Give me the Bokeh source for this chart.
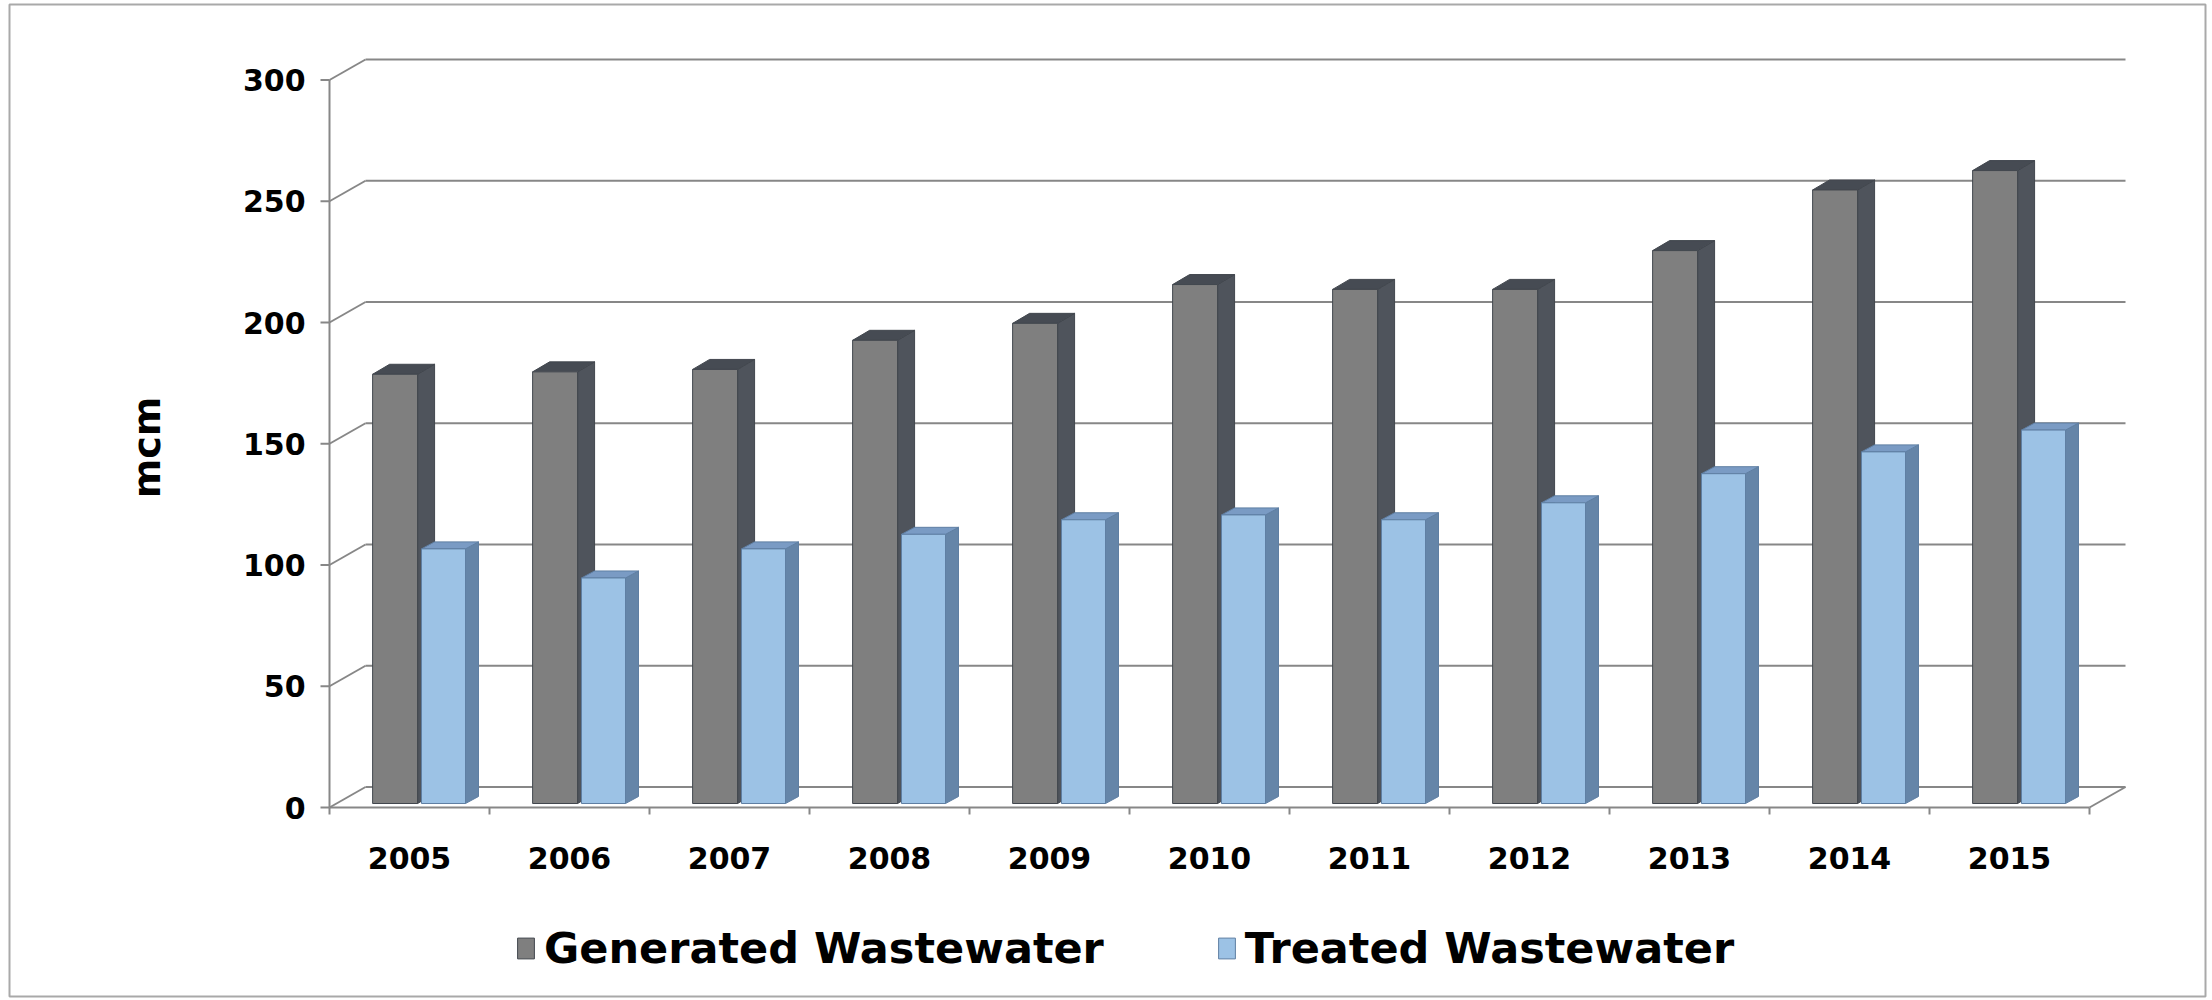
import numpy as np
from bokeh.plotting import figure
from bokeh.models import Range1d, Legend, LegendItem
from bokeh.core.properties import value
from bokeh.embed import file_html
from bokeh.resources import INLINE

# ---------------- data ----------------
years = ["2005", "2006", "2007", "2008", "2009", "2010",
         "2011", "2012", "2013", "2014", "2015"]
generated = [177, 178, 179, 191, 198, 214, 212, 212, 228, 253, 261]
treated = [105, 93, 105, 111, 117, 119, 117, 124, 136, 145, 154]
y_ticks = [0, 50, 100, 150, 200, 250, 300]
series_names = ["Generated Wastewater", "Treated Wastewater"]
y_title = "mcm"

# ---------------- geometry (screen pixels -> data units) ----------------
W, H = 2212, 1000
X0, Y0 = 329, 807          # front origin of the 3-D box on screen
SX = 160.0                 # pixels per category slot
SY = 2.425                 # pixels per mcm


def ux(px):
    return px / SX


def uy(px):
    return px / SY


n = len(years)
GRID = "#878787"
FONT = value("DejaVu Sans")

p = figure(width=W, height=H, output_backend="svg", toolbar_location=None, tools="",
           x_range=Range1d(-X0 / SX, (W - X0) / SX),
           y_range=Range1d(-(H - Y0) / SY, Y0 / SY),
           x_axis_location=None, y_axis_location=None,
           min_border=0, outline_line_color=None,
           background_fill_color="white", border_fill_color="white")
p.xgrid.visible = False
p.ygrid.visible = False

# outer frame of the picture
p.quad(left=[ux(9 - X0)], right=[ux(2205 - X0)], top=[uy(Y0 - 4)], bottom=[uy(Y0 - 996)],
       fill_color=None, line_color="#a9a9a9", line_width=2)

# back wall gridlines and left-wall diagonals
wall_dx, wall_dy = ux(36), uy(20.5)
ticks = np.array(y_ticks, dtype=float)
p.segment(x0=np.full(len(ticks), wall_dx), y0=ticks + wall_dy,
          x1=np.full(len(ticks), n + wall_dx), y1=ticks + wall_dy,
          line_color=GRID, line_width=2)
p.segment(x0=np.zeros(len(ticks)), y0=ticks, x1=np.full(len(ticks), wall_dx), y1=ticks + wall_dy,
          line_color=GRID, line_width=2)

# front value axis with ticks
p.line(x=[0, 0], y=[0, max(y_ticks)], line_color=GRID, line_width=2)
p.segment(x0=np.full(len(ticks), ux(-9)), y0=ticks, x1=np.zeros(len(ticks)), y1=ticks,
          line_color=GRID, line_width=2)

# floor front edge, right diagonal, category ticks
p.line(x=[0, n], y=[0, 0], line_color=GRID, line_width=2)
p.line(x=[n, n + wall_dx], y=[0, wall_dy], line_color=GRID, line_width=2)
bounds = np.arange(n + 1, dtype=float)
p.segment(x0=bounds, y0=np.zeros(n + 1), x1=bounds, y1=np.full(n + 1, uy(-7)),
          line_color=GRID, line_width=2)

# ---------------- 3-D columns ----------------
base = uy(4)
idx = np.arange(n, dtype=float)


def column(vals, off, width, sdx_px, sdy_px, front, side, top_c, edge):
    vals = np.array(vals, dtype=float)
    xc = idx + off
    xl, xr = xc - width / 2, xc + width / 2
    tops = base + vals
    sdx, sdy = ux(sdx_px), uy(sdy_px)
    side_xs = [[a, a + sdx, a + sdx, a] for a in xr]
    side_ys = [[base, base + sdy, t + sdy, t] for t in tops]
    p.patches(xs=side_xs, ys=side_ys, fill_color=side, line_color=edge, line_width=1)
    cap_xs = [[a, b, b + sdx, a + sdx] for a, b in zip(xl, xr)]
    cap_ys = [[t, t, t + sdy, t + sdy] for t in tops]
    p.patches(xs=cap_xs, ys=cap_ys, fill_color=top_c, line_color=edge, line_width=1)
    r = p.vbar(x=xc, width=width, bottom=base, top=tops,
               fill_color=front, line_color=edge, line_width=1)
    return r


r_gen = column(generated, 0.41, 0.281, 17, 10,
               "#7f7f7f", "#4f545c", "#464b53", "#42474e")
r_tr = column(treated, 0.7125, 0.275, 13, 7,
              "#9cc2e5", "#6585a8", "#7a9bc4", "#5f7fa3")

# ---------------- texts ----------------
p.text(x=np.full(len(ticks), ux(305 - X0)), y=ticks, text=[str(t) for t in y_ticks],
       text_font=FONT, text_font_style="bold", text_font_size="30px",
       text_color="black", text_align="right", text_baseline="middle")

p.text(x=idx + 0.5, y=np.full(n, uy(807 - 857)), text=years,
       text_font=FONT, text_font_style="bold", text_font_size="30px",
       text_color="black", text_align="center", text_baseline="middle")

p.text(x=[ux(146 - X0)], y=[uy(807 - 447)], text=[y_title], angle=np.pi / 2,
       text_font=FONT, text_font_style="bold", text_font_size="38px",
       text_color="black", text_align="center", text_baseline="middle")

legend = Legend(items=[LegendItem(label=series_names[0], renderers=[r_gen]),
                       LegendItem(label=series_names[1], renderers=[r_tr])],
                location=(515, 27), orientation="horizontal",
                glyph_width=21, glyph_height=26, label_standoff=8, spacing=112,
                padding=0, margin=0, border_line_color=None, background_fill_alpha=0,
                label_text_font="DejaVu Sans", label_text_font_style="bold",
                label_text_font_size="43px", label_text_color="black")
p.add_layout(legend)

open("out.html", "w").write(file_html(p, INLINE))
